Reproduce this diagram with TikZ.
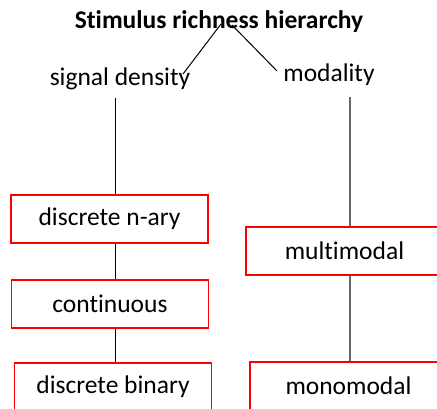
\documentclass[tikz,border=0pt]{standalone}
\usepackage{fontspec}
\setmainfont{Carlito}[Ligatures=NoCommon]
\usetikzlibrary{positioning}

\begin{document}
\begin{tikzpicture}[x=1pt, y=1pt,
    leaf/.style={draw=red, line width=1.4pt, fill=white, minimum width=197pt, minimum height=48pt, inner sep=0pt, font=\fontsize{25.5}{30}\selectfont},
    head/.style={anchor=base, inner sep=0pt, font=\fontsize{25.5}{30}\selectfont},
    link/.style={draw=black, line width=1pt},
    glink/.style={draw=gray!80!black, line width=1.2pt}
]
\useasboundingbox (0,0) rectangle (437,408);
\clip (0,0) rectangle (437,408);

% headings
\node[head, font=\bfseries\fontsize{25.5}{30}\selectfont] (title) at (219,379) {Stimulus richness hierarchy};
\node[head] (sd) at (120,323) {signal density};
\node[head] (mod) at (329,326) {modality};

\coordinate (apexL) at (221,384);
\coordinate (apexR) at (232,383);
\coordinate (sdEnd) at (183,334);
\coordinate (modEnd) at (277,337);
\draw[link] (apexL) -- (sdEnd);
\draw[link] (apexR) -- (modEnd);

% boxes
\node[leaf] (nary) at (109.5,189) {discrete n-ary};
\node[leaf] (cont) at (110,104) {continuous};
\node[leaf] (binary) at (113,21) {discrete binary};
\node[leaf] (multi) at (344.5,157) {multimodal};
\node[leaf] (mono) at (348.5,22) {monomodal};

\coordinate (lTop) at (115,310);
\coordinate (rTop) at (350,311);
\draw[link] (lTop) -- (lTop |- nary.north);
\draw[link] (lTop |- nary.south) -- (lTop |- cont.north);
\draw[link] (lTop |- cont.south) -- (lTop |- binary.north);
\draw[glink] (rTop) -- (rTop |- multi.north);
\draw[glink] (rTop |- multi.south) -- (rTop |- mono.north);

\end{tikzpicture}
\end{document}
